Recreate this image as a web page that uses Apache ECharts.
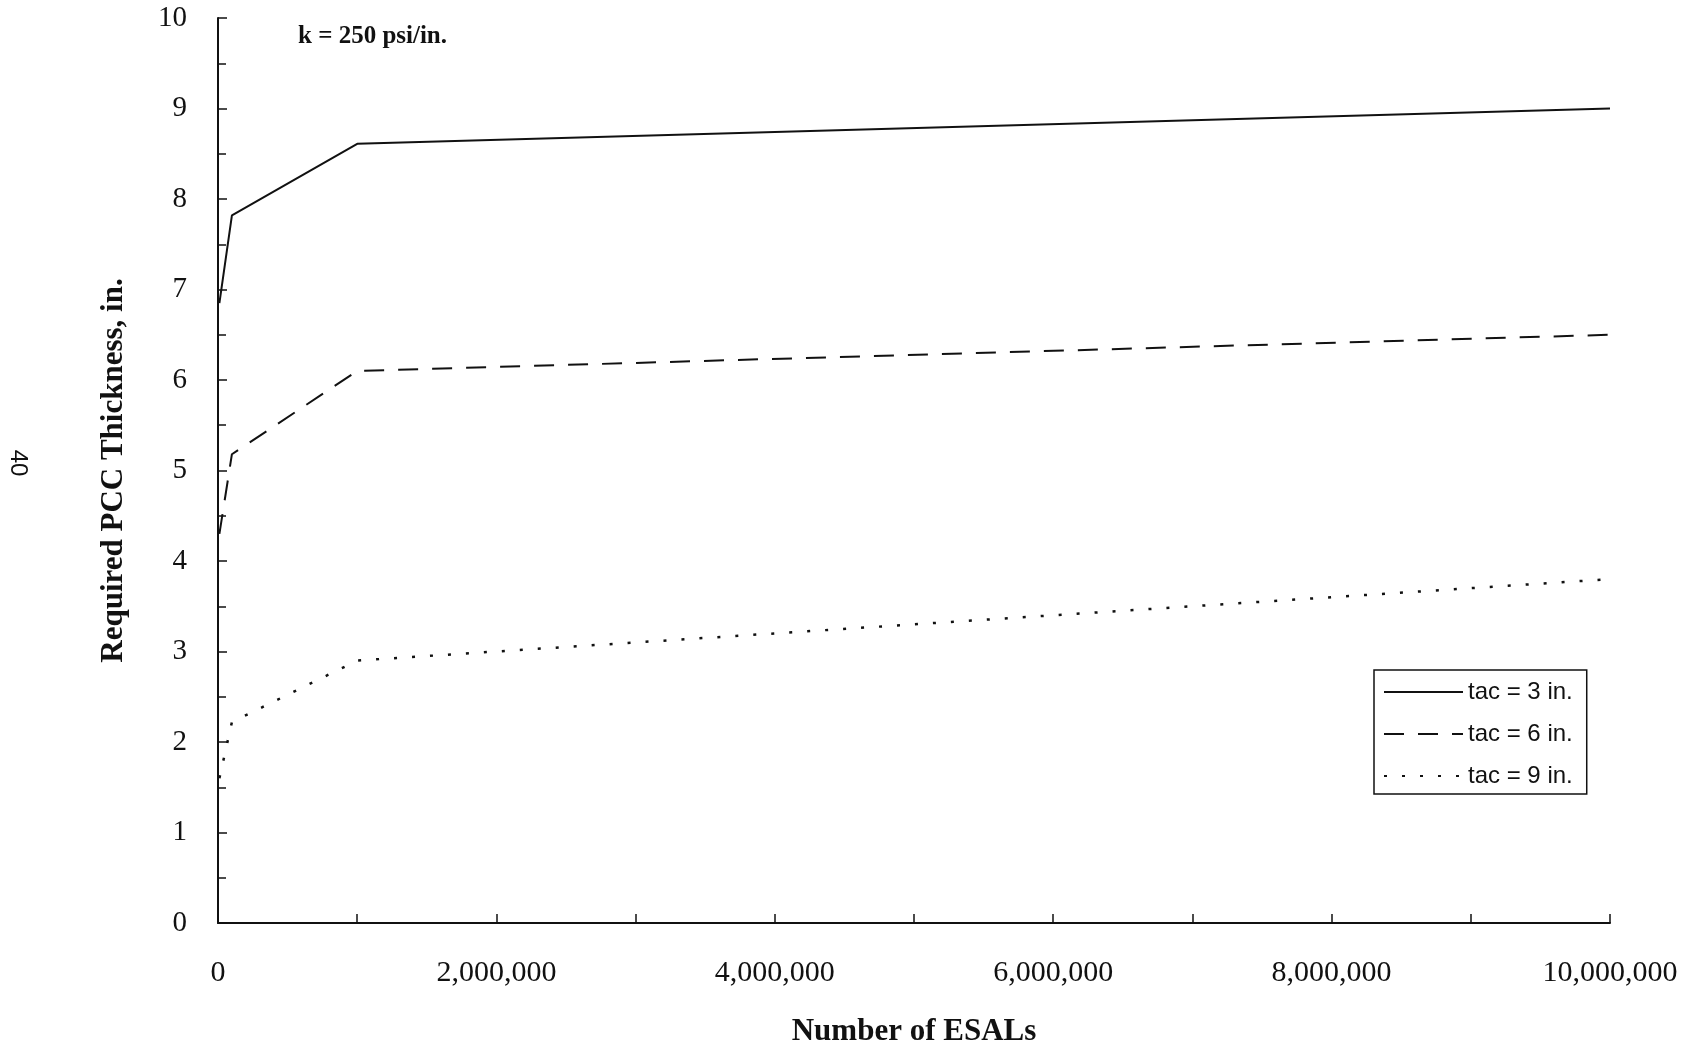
<!DOCTYPE html>
<html>
<head>
<meta charset="utf-8">
<script src="https://cdn.jsdelivr.net/npm/echarts@6/dist/echarts.min.js"></script>
<style>
html,body{margin:0;padding:0;background:#fff;}
#chart{width:1693px;height:1047px;}
</style>
</head>
<body>
<div id="chart"></div>
<script>
const esals = [10000, 100000, 1000000, 10000000];
const tac3 = [6.85, 7.82, 8.61, 9.0];
const tac6 = [4.3, 5.18, 6.1, 6.5];
const tac9 = [1.6, 2.22, 2.9, 3.8];
const seriesNames = ['tac = 3 in.', 'tac = 6 in.', 'tac = 9 in.'];
const xTickLabels = ['0', '2,000,000', '4,000,000', '6,000,000', '8,000,000', '10,000,000'];
const yTickLabels = ['0', '1', '2', '3', '4', '5', '6', '7', '8', '9', '10'];

const ink = '#111';
const serif = '"Liberation Serif", "Times New Roman", serif';
const sans = '"Liberation Sans", Arial, sans-serif';

function pairs(vals) { return esals.map((x, i) => [x, vals[i]]); }

const chart = echarts.init(document.getElementById('chart'), null, {renderer: 'canvas'});
chart.setOption({
  backgroundColor: '#fff',
  animation: false,
  grid: {left: 218, right: 83, top: 18, bottom: 124, containLabel: false, outerBoundsMode: 'none'},
  xAxis: {
    type: 'value', min: 0, max: 10000000, interval: 2000000,
    axisLine: {show: true, lineStyle: {color: ink, width: 2}},
    axisTick: {show: true, inside: true, length: 9, lineStyle: {color: ink, width: 1.5}},
    minorTick: {show: true, splitNumber: 2, length: 9, lineStyle: {color: ink, width: 1.5}},
    splitLine: {show: false},
    axisLabel: {
      margin: 35, color: ink, fontFamily: serif, fontSize: 30,
      formatter: v => xTickLabels[Math.round(v / 2000000)]
    },
    name: 'Number of ESALs', nameLocation: 'middle', nameGap: 93,
    nameTextStyle: {color: ink, fontFamily: serif, fontWeight: 'bold', fontSize: 31}
  },
  yAxis: {
    type: 'value', min: 0, max: 10, interval: 1,
    axisLine: {show: true, lineStyle: {color: ink, width: 2}},
    axisTick: {show: true, inside: true, length: 9, lineStyle: {color: ink, width: 1.5}},
    minorTick: {show: true, splitNumber: 2, length: 8, lineStyle: {color: ink, width: 1.5}},
    splitLine: {show: false},
    axisLabel: {
      margin: 31, color: ink, fontFamily: serif, fontSize: 29,
      formatter: v => yTickLabels[Math.round(v)]
    },
    name: 'Required PCC Thickness, in.', nameLocation: 'middle', nameGap: 89,
    nameTextStyle: {color: ink, fontFamily: serif, fontWeight: 'bold', fontSize: 31}
  },
  legend: {
    show: true,
    orient: 'vertical', left: 1374, top: 670,
    data: seriesNames,
    itemWidth: 79, itemHeight: 14, itemGap: 18,
    padding: [10, 14, 6, 9],
    borderColor: ink, borderWidth: 1.5,
    itemStyle: {opacity: 0},
    textStyle: {color: ink, fontFamily: sans, fontSize: 24}
  },
  graphic: [
    {type: 'text', left: 298, top: 24, style: {text: 'k = 250 psi/in.', fill: ink, font: 'bold 25px ' + serif}},
    {type: 'text', x: 18, y: 463, rotation: -Math.PI / 2,
     style: {text: '40', fill: ink, font: '24px ' + sans, align: 'center', verticalAlign: 'middle'}}
  ],
  series: [
    {name: seriesNames[0], type: 'line', data: pairs(tac3), symbol: 'none',
     lineStyle: {color: ink, width: 2, type: 'solid'}, itemStyle: {color: ink}},
    {name: seriesNames[1], type: 'line', data: pairs(tac6), symbol: 'none',
     lineStyle: {color: ink, width: 2, type: [20, 14]}, itemStyle: {color: ink}},
    {name: seriesNames[2], type: 'line', data: pairs(tac9), symbol: 'none',
     lineStyle: {color: ink, width: 2.5, type: [3, 15]}, itemStyle: {color: ink}}
  ]
});
</script>
</body>
</html>
